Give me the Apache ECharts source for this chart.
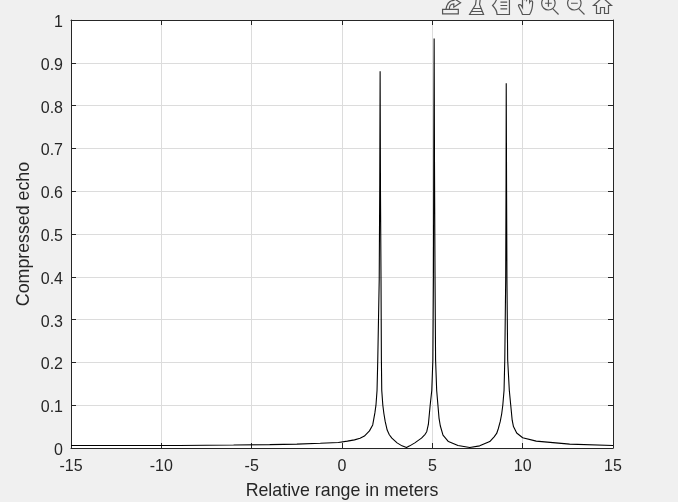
<!DOCTYPE html>
<html>
<head>
<meta charset="utf-8">
<style>html,body{margin:0;padding:0;background:#f0f0f0}#chart{width:678px;height:502px}</style>
<script src="https://cdn.jsdelivr.net/npm/echarts@6/dist/echarts.min.js"></script>
</head>
<body>
<div id="chart"></div>
<script>
// values
var rangeM = [-15,-12,-9,-6,-4,-2.5,-1.2,-0.2,0.3,0.69,1.0,1.24,1.52,1.7,1.82,1.88,1.94,1.98,2.06,2.09,2.11,2.13,2.16,2.18,2.2,2.26,2.32,2.39,2.5,2.62,2.76,3.05,3.32,3.57,3.75,4.03,4.4,4.6,4.69,4.78,4.88,4.97,5.03,5.06,5.08,5.1,5.12,5.15,5.18,5.24,5.31,5.37,5.44,5.59,5.89,6.42,7.07,7.62,8.18,8.42,8.56,8.65,8.76,8.84,8.9,8.97,9.01,9.06,9.08,9.09,9.11,9.13,9.17,9.26,9.34,9.42,9.49,9.67,10,10.75,12.6,15];
var echo = [0.006,0.006,0.006,0.007,0.008,0.009,0.011,0.013,0.016,0.019,0.023,0.028,0.04,0.054,0.082,0.1,0.135,0.206,0.393,0.62,0.88,0.6,0.393,0.206,0.135,0.1,0.08,0.062,0.042,0.031,0.023,0.012,0.005,0.001,0.005,0.012,0.023,0.032,0.038,0.055,0.1,0.135,0.206,0.393,0.68,0.957,0.66,0.393,0.206,0.135,0.1,0.07,0.052,0.03,0.015,0.006,0.001,0.005,0.015,0.026,0.034,0.045,0.062,0.08,0.1,0.135,0.206,0.393,0.62,0.852,0.6,0.393,0.206,0.135,0.1,0.065,0.05,0.035,0.024,0.016,0.009,0.006];
var xTicks = {min:-15, max:15, step:5};
var yTicks = {min:0, max:1, step:0.1};

var FONT = 'Liberation Sans';
var DARK = '#262626';

var myChart = echarts.init(document.getElementById('chart'));

var points = [];
for (var i = 0; i < rangeM.length; i++) points.push([rangeM[i], echo[i]]);

function axis(pos, ticks, name, labels) {
    return {
        type:'value', position:pos, min:ticks.min, max:ticks.max, interval:ticks.step,
        name:name, nameLocation:'middle', nameMoveOverlap:false,
        nameTextStyle:{color:DARK, fontFamily:FONT, fontSize:17.8},
        axisLine:{show:true, onZero:false, lineStyle:{color:DARK, width:1}},
        axisTick:{show:true, inside:true, length:5, lineStyle:{color:DARK, width:1}},
        axisLabel:{show:labels, color:DARK, fontFamily:FONT, fontSize:16, margin:8},
        splitLine:{show:labels, lineStyle:{color:'#dcdcdc', width:1}}
    };
}

var bottomAxis = axis('bottom', xTicks, 'Relative range in meters', true);
bottomAxis.nameGap = 34;
bottomAxis.axisLabel.margin = 11;
var leftAxis = axis('left', yTicks, 'Compressed echo', true);
leftAxis.nameGap = 38;
leftAxis.axisLabel.verticalAlign = 'top';
leftAxis.axisLabel.lineHeight = 5;

var option = {
    animation:false,
    backgroundColor:'#f0f0f0',
    toolbox:{
        show:true, right:49, top:-21, itemSize:18, itemGap:4,
        iconStyle:{color:'none', borderColor:'#555', borderWidth:1.2},
        feature:{
            myEdit:{show:true, title:'', icon:'path://M2 16H16V12H2ZM5 12C6 6 9 4 12 4L10 1L18 6L12 10V7C9 7 8 9 8 12Z', onclick:function(){}},
            myBrush:{show:true, title:'', icon:'path://M9 0H13L12 8L16 18H2L8 8ZM5 12H14M4 15H15', onclick:function(){}},
            myLegend:{show:true, title:'', icon:'path://M5 1H16V17H5C5 14 3 11 1 9C3 7 5 4 5 1ZM8 6H14M8 9H14M8 12H14', onclick:function(){}},
            myPan:{show:true, title:'', icon:'path://M5 18C4 14 1 11 1 9C2 7 4 9 5 11V3C6 1 7 2 7 4V1C8 0 9 0 9 1V4L11 1C12 1 12 2 12 3V6C13 4 15 4 15 6C15 10 14 15 12 18Z', onclick:function(){}},
            myZoomIn:{show:true, title:'', icon:'path://M8 1A6 6 0 1 1 7.9 1ZM12 12L17 17M5 7H11M8 4V10', onclick:function(){}},
            myZoomOut:{show:true, title:'', icon:'path://M8 1A6 6 0 1 1 7.9 1ZM12 12L17 17M5 7H11', onclick:function(){}},
            myHome:{show:true, title:'', icon:'path://M9 1L18 9H15V17H11V11H7V17H3V9H0Z', onclick:function(){}}
        }
    },
    grid:{left:71, right:65, top:20, bottom:54, outerBoundsMode:'none', show:true, backgroundColor:'#fff', borderWidth:0},
    xAxis:[bottomAxis, axis('top', xTicks, '', false)],
    yAxis:[leftAxis, axis('right', yTicks, '', false)],
    series:[{
        type:'line', data:points, showSymbol:false, symbol:'none', smooth:false,
        lineStyle:{color:'#000', width:1.1}
    }]
};
myChart.setOption(option);
</script>
</body>
</html>
